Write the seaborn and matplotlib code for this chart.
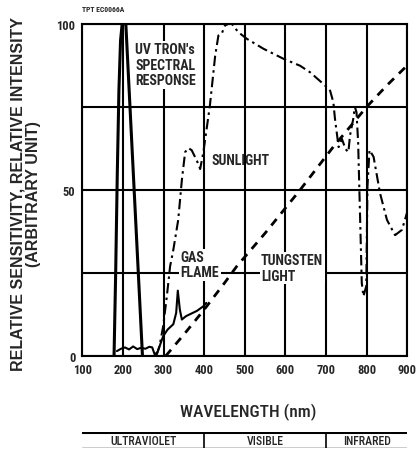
import matplotlib
matplotlib.use("Agg")
import matplotlib.pyplot as plt
from matplotlib import font_manager
import seaborn as sns
import pandas as pd

# ---------------- data ----------------
uv_nm = [178, 182, 186, 190, 194, 198, 207, 248]
uv_val = [0, 25, 55, 80, 95, 100, 100, 0]

gas_nm = [185, 195, 205, 215, 225, 235, 245, 255, 265, 272, 278, 285, 299, 310, 324, 331, 335, 340, 345, 355, 365, 382, 398, 405]
gas_val = [1.5, 2.2, 2.6, 2.0, 2.9, 2.1, 2.5, 2.2, 2.8, 2.6, 0.5, 1.2, 6, 8, 9.6, 13, 19.7, 14, 11, 12, 12.6, 13.6, 15, 16]

sun_nm = [282, 290, 299, 308, 316, 324, 336, 345, 353, 361, 369, 382, 390, 398, 406, 414, 427, 435, 443, 451,
          460, 468, 484, 505, 546, 595, 636, 661, 698, 710, 718, 722, 731, 739, 748, 755, 759, 767, 771, 775,
          779, 784, 788, 792, 799, 802, 807, 817, 833, 850, 870, 887, 899]
sun_val = [0, 3, 9, 18, 27, 32, 41, 53, 61.4, 62.6, 62, 58.8, 56.3, 61.4, 68.4, 75.4, 90.4, 96.5, 97, 99.5,
           100, 100, 97.5, 95.5, 92.5, 89.5, 87.4, 85.4, 81.4, 79.9, 76.4, 71.4, 62.9, 65.4, 62.3, 61.4, 66.4, 71.4, 75, 73.4,
           64.4, 41, 22, 18, 21, 51, 62, 60, 49, 41, 36.4, 38, 43]

tung_nm = [305, 350, 400, 450, 480, 550, 636, 718, 800, 850, 900]
tung_val = [0, 6.5, 14, 22, 27, 37, 50, 63, 75, 81.5, 87.5]

x_ticks = [100, 200, 300, 400, 500, 600, 700, 800, 900]
y_ticks = [0, 25, 50, 75, 100]
y_tick_labels = ["0", "", "50", "", "100"]

band_edges = [100, 400, 700, 900]
band_labels = ["ULTRAVIOLET", "VISIBLE", "INFRARED"]

# ---------------- fonts ----------------
sns.set_style("white")
plt.rcParams["font.family"] = ["Liberation Sans", "DejaVu Sans"]

fl = font_manager.fontManager.ttflist
names = {f.name for f in fl}
narrow = None
for cand in ["Liberation Sans Narrow", "Arial Narrow", "Roboto Condensed", "Open Sans Condensed",
             "Noto Sans Condensed", "DejaVu Sans Condensed"]:
    if cand in names:
        narrow = dict(family=[cand, "DejaVu Sans"])
        break
if narrow is None:
    cond = [f for f in fl if isinstance(f.stretch, str) and f.stretch in ("condensed", "semi-condensed")]
    if cond:
        narrow = dict(family=[cond[0].name, "DejaVu Sans"], stretch=cond[0].stretch)
    else:
        narrow = dict(family=["Liberation Sans", "DejaVu Sans"])
scale = 1.0 if narrow["family"][0] != "Liberation Sans" else 0.85

fig = plt.figure(figsize=(4.16, 4.52), dpi=100)
ax = fig.add_axes([0.198, 0.210, 0.781, 0.735])

uv = pd.DataFrame({"nm": uv_nm, "v": uv_val})
gas = pd.DataFrame({"nm": gas_nm, "v": gas_val})
sun = pd.DataFrame({"nm": sun_nm, "v": sun_val})
tung = pd.DataFrame({"nm": tung_nm, "v": tung_val})

sns.lineplot(data=uv, x="nm", y="v", ax=ax, color="black", lw=2.2, sort=False, zorder=4)
sns.lineplot(data=gas, x="nm", y="v", ax=ax, color="black", lw=1.5, sort=False, zorder=4)
sns.lineplot(data=sun, x="nm", y="v", ax=ax, color="black", lw=1.5, sort=False, zorder=4,
             linestyle=(0, (5, 2, 1.2, 2)))
sns.lineplot(data=tung, x="nm", y="v", ax=ax, color="black", lw=2.0, sort=False, zorder=4,
             linestyle=(0, (3, 2.5)))

ax.set_xlim(100, 900)
ax.set_ylim(0, 100)
ax.set_xticks(x_ticks)
ax.set_yticks(y_ticks)
ax.set_yticklabels(y_tick_labels)
ax.tick_params(length=0, labelsize=9 * scale, pad=5)
for lab in ax.get_xticklabels() + ax.get_yticklabels():
    lab.set_fontweight("bold")
    lab.set_family(narrow["family"])
    if "stretch" in narrow:
        lab.set_stretch(narrow["stretch"])
ax.grid(True, color="black", lw=1.5, zorder=1)
ax.set_axisbelow(True)
for s in ax.spines.values():
    s.set_color("black")
    s.set_linewidth(1.5)
ax.set_xlabel("")
ax.set_ylabel("")

tb = dict(facecolor="white", edgecolor="none", pad=1)
fs = 10 * scale
ax.text(230, 94.5, "UV TRON's\nSPECTRAL\nRESPONSE", fontsize=fs, fontweight="bold",
        va="top", ha="left", linespacing=1.15, zorder=5, bbox=tb, **narrow)
ax.text(418, 59, "SUNLIGHT", fontsize=fs, fontweight="bold", va="center", ha="left", zorder=5, **narrow)
ax.text(342, 27.5, "GAS\nFLAME", fontsize=fs, fontweight="bold", va="center", ha="left",
        linespacing=1.1, zorder=5, bbox=tb, **narrow)
ax.text(540, 26.5, "TUNGSTEN\nLIGHT", fontsize=fs, fontweight="bold", va="center", ha="left",
        linespacing=1.1, zorder=5, bbox=tb, **narrow)

fig.text(0.198, 0.978, "TPT EC0066A", fontsize=5.5, fontweight="bold", ha="left", va="center", **narrow)
fig.text(0.062, 0.571, "RELATIVE SENSITIVITY, RELATIVE INTENSITY\n(ARBITRARY UNIT)",
         rotation=90, fontsize=11.5, fontweight="bold", ha="center", va="center",
         linespacing=1.05)
fig.text(0.597, 0.088, "WAVELENGTH (nm)", fontsize=12.5 * scale, fontweight="medium",
         ha="center", va="center", **narrow)

# band axes
bax = fig.add_axes([0.198, 0.006, 0.781, 0.036])
bax.set_xlim(100, 900)
bax.set_ylim(0, 1)
bax.axis("off")
bax.axhline(1, color="black", lw=2.2)
bax.axhline(0, color="black", lw=1.0)
for e in band_edges[1:-1]:
    bax.axvline(e, color="black", lw=1.2)
for i, lab in enumerate(band_labels):
    bax.text((band_edges[i] + band_edges[i + 1]) / 2, 0.45, lab, fontsize=8.5 * scale,
             fontweight="medium", ha="center", va="center", **narrow)

fig.savefig("out.png", dpi=100)
